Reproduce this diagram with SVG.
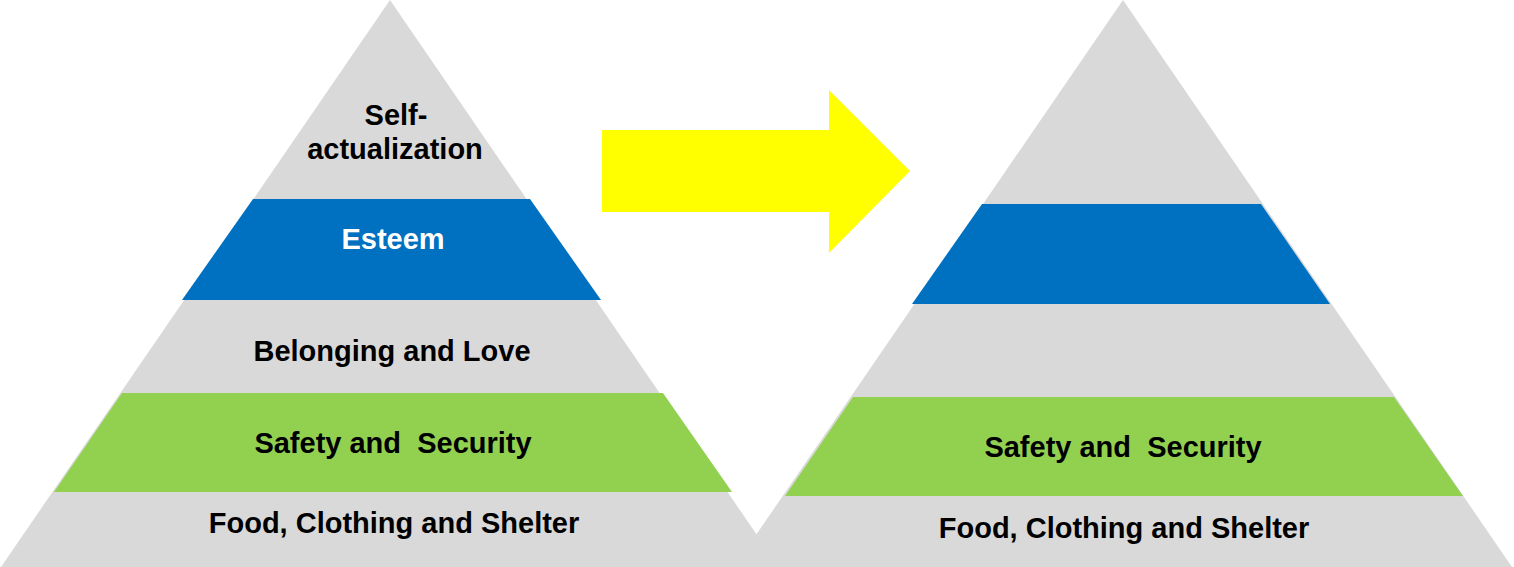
<svg xmlns="http://www.w3.org/2000/svg" width="1514" height="567" viewBox="0 0 1514 567">
<style>
.grey{fill:#D9D9D9}
.blue{fill:#0070C0}
.green{fill:#92D050}
.arrow{fill:#FFFF00}
.lbl{font-family:"Liberation Sans",Arial,sans-serif;font-weight:bold;font-size:29px;fill:#000;text-anchor:middle;white-space:pre}
.wlbl{fill:#fff}
</style>
<rect width="1514" height="567" fill="#fff"/>
<g id="left-pyramid">
  <polygon class="grey" points="390,0 779,567 1,567"/>
  <polygon class="blue" points="253,199 530,199 601,300 182,300"/>
  <polygon class="green" points="122,393 663,393 732,492 54,492"/>
  <text class="lbl" x="396" y="125">Self-</text>
  <text class="lbl" x="395" y="159">actualization</text>
  <text class="lbl wlbl" x="393" y="249">Esteem</text>
  <text class="lbl" x="392" y="361">Belonging and Love</text>
  <text class="lbl" x="393" y="453" xml:space="preserve">Safety and  Security</text>
  <text class="lbl" x="394" y="533">Food, Clothing and Shelter</text>
</g>
<g id="right-pyramid">
  <polygon class="grey" points="1123,0 1512,567 734,567"/>
  <polygon class="blue" points="982,204 1261,204 1330,304 912,304"/>
  <polygon class="green" points="853,397 1394,397 1463,496 785,496"/>
  <text class="lbl" x="1123" y="457" xml:space="preserve">Safety and  Security</text>
  <text class="lbl" x="1124" y="538">Food, Clothing and Shelter</text>
</g>
<g id="connectors">
  <polygon class="arrow" points="602,130 829,130 829,90 910,171 829,253 829,212 602,212"/>
</g>
</svg>
